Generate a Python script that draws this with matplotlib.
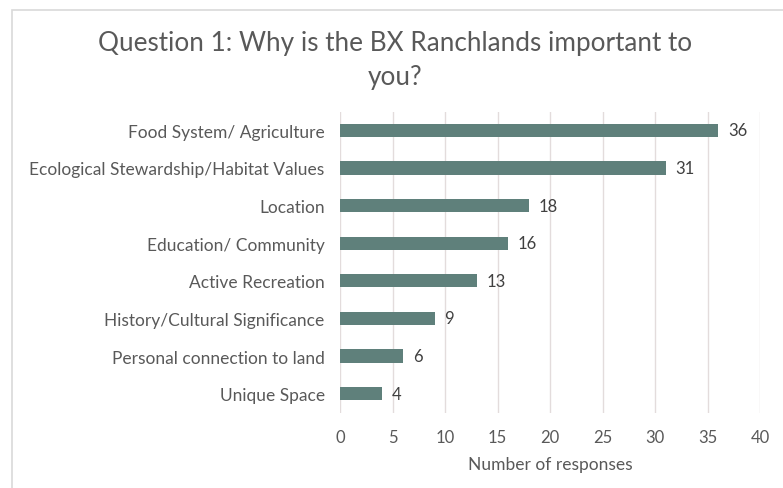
import matplotlib
matplotlib.use("Agg")
import matplotlib.pyplot as plt
from matplotlib.patches import Rectangle

categories = [
    "Food System/ Agriculture",
    "Ecological Stewardship/Habitat Values",
    "Location",
    "Education/ Community",
    "Active Recreation",
    "History/Cultural Significance",
    "Personal connection to land",
    "Unique Space",
]
responses = [36, 31, 18, 16, 13, 9, 6, 4]
x_ticks = [0, 5, 10, 15, 20, 25, 30, 35, 40]

bar_color = "#5f807b"
text_color = "#595959"
plt.rcParams["font.family"] = ["Lato", "DejaVu Sans"]

fig = plt.figure(figsize=(7.83, 4.89), dpi=100)
ax = fig.add_axes([340 / 783, 1 - 413.5 / 489, 420 / 783, 301 / 489])

# chart border
fig.patches.append(Rectangle((12 / 783, -0.1), 1.2, 1 - 11 / 489 + 0.1,
                             transform=fig.transFigure, fill=False,
                             edgecolor="#d9d9d9", linewidth=1.2))

ypos = list(range(len(categories)))
ax.barh(ypos, responses, height=0.35, color=bar_color, zorder=3)
for y, v in zip(ypos, responses):
    ax.text(v + 0.95, y, str(v), va="center", ha="left", fontsize=12, color="#404040")

ax.set_ylim(len(categories) - 0.5, -0.5)
ax.set_xlim(0, 40)
ax.set_yticks(ypos)
ax.set_yticklabels(categories, fontsize=12.5, color=text_color)
ax.set_xticks(x_ticks)
ax.set_xticklabels([str(t) for t in x_ticks], fontsize=12, color=text_color)
ax.tick_params(length=0)
ax.tick_params(axis="y", pad=11)
ax.tick_params(axis="x", pad=12)
ax.grid(axis="x", color="#e3dcdc", linewidth=1, zorder=0)
for s in ax.spines.values():
    s.set_visible(False)
ax.set_xlabel("Number of responses", fontsize=12.5, color=text_color, labelpad=8)

fig.text(395 / 783, 1 - 44 / 489, "Question 1: Why is the BX Ranchlands important to",
         ha="center", va="center", fontsize=18.8, color=text_color)
fig.text(395 / 783, 1 - 77 / 489, "you?",
         ha="center", va="center", fontsize=18.8, color=text_color)

fig.savefig("out.png", dpi=100)
